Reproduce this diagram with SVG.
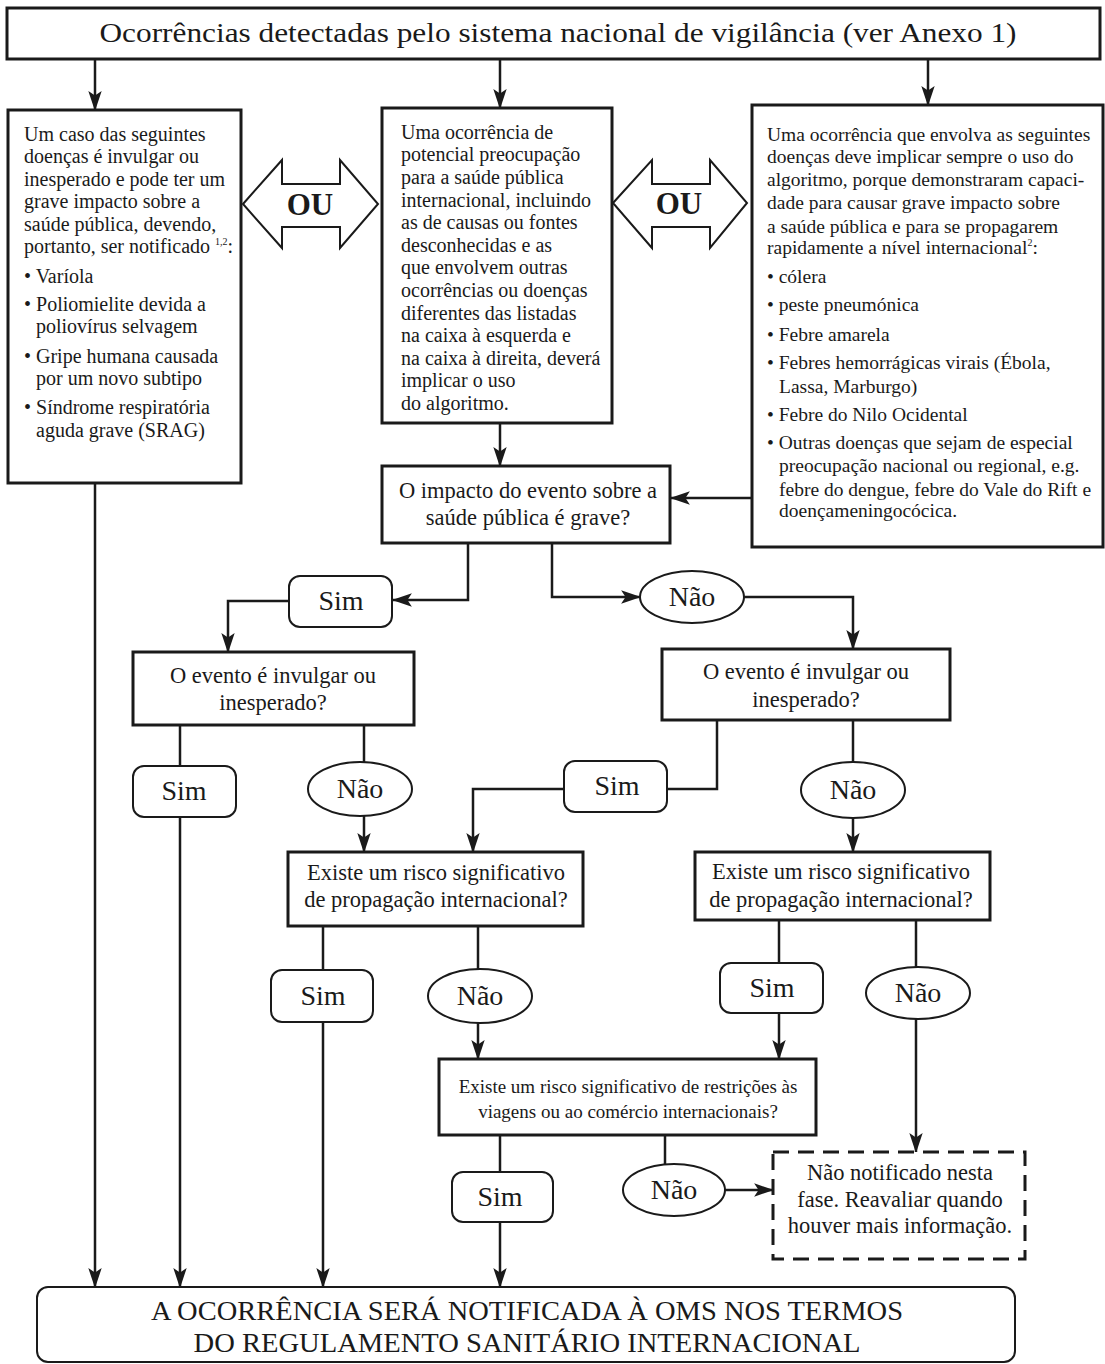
<svg xmlns="http://www.w3.org/2000/svg" width="1105" height="1364" viewBox="0 0 1105 1364">
<defs>
<style>
text{font-family:"Liberation Serif","Times New Roman",serif;fill:#1a1a1a}
.box{fill:#fff;stroke:#1a1a1a;stroke-width:3}
.lbl{fill:#fff;stroke:#1a1a1a;stroke-width:2}
.dash{fill:#fff;stroke:#1a1a1a;stroke-width:3;stroke-dasharray:16 9}
.ou{fill:#fff;stroke:#1a1a1a;stroke-width:2}
.body{font-size:20px}
.rb{font-size:19.5px}
.q{font-size:22.5px;text-anchor:middle}
.yn{font-size:28px;text-anchor:middle}
.oul{font-size:31px;font-weight:bold;text-anchor:middle}
.c{fill:none;stroke:#1a1a1a;stroke-width:2.5}
.ca{fill:none;stroke:#1a1a1a;stroke-width:2.5;marker-end:url(#ah)}
</style>
<marker id="ah" markerUnits="userSpaceOnUse" markerWidth="20" markerHeight="14" viewBox="0 0 18 12" refX="17" refY="6" orient="auto">
<path d="M0,0 L18,6 L0,12 L4,6 Z" fill="#1a1a1a"/>
</marker>
</defs>

<g id="connectors">
<path class="ca" d="M95,59 V110"/>
<path class="ca" d="M500,59 V108"/>
<path class="ca" d="M928,59 V105"/>
<path class="ca" d="M95,483 V1287"/>
<path class="ca" d="M500,423 V466"/>
<path class="ca" d="M752,498 H671"/>
<path class="ca" d="M468,543 V600 H393"/>
<path class="ca" d="M289,601 H228 V652"/>
<path class="ca" d="M552,543 V597 H640"/>
<path class="ca" d="M744,597 H853 V649"/>
<path class="c" d="M180,725 V766"/>
<path class="ca" d="M180,817 V1287"/>
<path class="c" d="M364,725 V763"/>
<path class="ca" d="M364,816 V852"/>
<path class="c" d="M717,720 V789 H667"/>
<path class="ca" d="M564,789 H473 V852"/>
<path class="c" d="M853,720 V762"/>
<path class="ca" d="M853,818 V852"/>
<path class="c" d="M323,926 V970"/>
<path class="ca" d="M323,1022 V1287"/>
<path class="c" d="M478,926 V969"/>
<path class="ca" d="M478,1023 V1059"/>
<path class="c" d="M779,920 V963"/>
<path class="ca" d="M779,1013 V1059"/>
<path class="c" d="M916,920 V967"/>
<path class="ca" d="M916,1019 V1152"/>
<path class="c" d="M500,1135 V1172"/>
<path class="ca" d="M500,1222 V1287"/>
<path class="c" d="M665,1135 V1164"/>
<path class="ca" d="M725,1190 H773"/>
</g>

<g id="top">
<rect class="box" x="7" y="8" width="1093" height="51"/>
<text x="558" y="42" font-size="28" text-anchor="middle" textLength="917" lengthAdjust="spacingAndGlyphs">Ocorrências detectadas pelo sistema nacional de vigilância (ver Anexo 1)</text>
</g>

<g id="left-box">
<rect class="box" x="8" y="110" width="233" height="373"/>
<text class="body">
<tspan x="24" y="141">Um caso das seguintes</tspan>
<tspan x="24" y="163">doenças é invulgar ou</tspan>
<tspan x="24" y="186">inesperado e pode ter um</tspan>
<tspan x="24" y="208">grave impacto sobre a</tspan>
<tspan x="24" y="231">saúde pública, devendo,</tspan>
<tspan x="24" y="253">portanto, ser notificado </tspan><tspan font-size="10" dy="-8">1,2</tspan><tspan dy="8">:</tspan>
<tspan x="24" y="283">• Varíola</tspan>
<tspan x="24" y="311">• Poliomielite devida a</tspan>
<tspan x="36" y="333">poliovírus selvagem</tspan>
<tspan x="24" y="363">• Gripe humana causada</tspan>
<tspan x="36" y="385">por um novo subtipo</tspan>
<tspan x="24" y="414">• Síndrome respiratória</tspan>
<tspan x="36" y="437">aguda grave (SRAG)</tspan>
</text>
</g>

<g id="ou-1">
<polygon class="ou" points="243,204 282,160 282,184 340,184 340,160 378,204 340,248 340,227 282,227 282,248"/>
<text class="oul" x="310" y="215">OU</text>
</g>

<g id="middle-box">
<rect class="box" x="382" y="108" width="230" height="315"/>
<text class="body">
<tspan x="401" y="139">Uma ocorrência de</tspan>
<tspan x="401" y="161">potencial preocupação</tspan>
<tspan x="401" y="184">para a saúde pública</tspan>
<tspan x="401" y="207">internacional, incluindo</tspan>
<tspan x="401" y="229">as de causas ou fontes</tspan>
<tspan x="401" y="252">desconhecidas e as</tspan>
<tspan x="401" y="274">que envolvem outras</tspan>
<tspan x="401" y="297">ocorrências ou doenças</tspan>
<tspan x="401" y="320">diferentes das listadas</tspan>
<tspan x="401" y="342">na caixa à esquerda e</tspan>
<tspan x="401" y="365">na caixa à direita, deverá</tspan>
<tspan x="401" y="387">implicar o uso</tspan>
<tspan x="401" y="410">do algoritmo.</tspan>
</text>
</g>

<g id="ou-2">
<polygon class="ou" points="613,203 652,160 652,184 710,184 710,160 747,203 710,248 710,227 652,227 652,248"/>
<text class="oul" x="679" y="214">OU</text>
</g>

<g id="right-box">
<rect class="box" x="752" y="105" width="351" height="442"/>
<text class="rb">
<tspan x="767" y="141">Uma ocorrência que envolva as seguintes</tspan>
<tspan x="767" y="163">doenças deve implicar sempre o uso do</tspan>
<tspan x="767" y="186">algoritmo, porque demonstraram capaci-</tspan>
<tspan x="767" y="209">dade para causar grave impacto sobre</tspan>
<tspan x="767" y="233">a saúde pública e para se propagarem</tspan>
<tspan x="767" y="254">rapidamente a nível internacional</tspan><tspan font-size="10" dy="-8">2</tspan><tspan dy="8">:</tspan>
<tspan x="767" y="283">• cólera</tspan>
<tspan x="767" y="311">• peste pneumónica</tspan>
<tspan x="767" y="341">• Febre amarela</tspan>
<tspan x="767" y="369">• Febres hemorrágicas virais (Ébola,</tspan>
<tspan x="779" y="393">Lassa, Marburgo)</tspan>
<tspan x="767" y="421">• Febre do Nilo Ocidental</tspan>
<tspan x="767" y="449">• Outras doenças que sejam de especial</tspan>
<tspan x="779" y="472">preocupação nacional ou regional, e.g.</tspan>
<tspan x="779" y="496">febre do dengue, febre do Vale do Rift e</tspan>
<tspan x="779" y="517">doençameningocócica.</tspan>
</text>
</g>

<g id="q-impacto">
<rect class="box" x="382" y="466" width="288" height="77"/>
<text class="q"><tspan x="528" y="498">O impacto do evento sobre a</tspan><tspan x="528" y="525">saúde pública é grave?</tspan></text>
</g>

<g id="sim-1"><rect class="lbl" x="289" y="576" width="103" height="51" rx="11"/><text class="yn" x="341" y="610">Sim</text></g>
<g id="nao-1"><ellipse class="lbl" cx="692" cy="597" rx="52" ry="26"/><text class="yn" x="692" y="606">Não</text></g>

<g id="q-invulgar-left">
<rect class="box" x="133" y="652" width="281" height="73"/>
<text class="q"><tspan x="273" y="683">O evento é invulgar ou</tspan><tspan x="273" y="710">inesperado?</tspan></text>
</g>

<g id="q-invulgar-right">
<rect class="box" x="662" y="649" width="288" height="71"/>
<text class="q"><tspan x="806" y="679">O evento é invulgar ou</tspan><tspan x="806" y="707">inesperado?</tspan></text>
</g>

<g id="sim-2"><rect class="lbl" x="133" y="766" width="103" height="51" rx="11"/><text class="yn" x="184" y="800">Sim</text></g>
<g id="nao-2"><ellipse class="lbl" cx="360" cy="789" rx="52" ry="27"/><text class="yn" x="360" y="798">Não</text></g>
<g id="sim-3"><rect class="lbl" x="564" y="761" width="103" height="51" rx="11"/><text class="yn" x="617" y="795">Sim</text></g>
<g id="nao-3"><ellipse class="lbl" cx="853" cy="790" rx="52" ry="28"/><text class="yn" x="853" y="799">Não</text></g>

<g id="q-propagacao-left">
<rect class="box" x="288" y="852" width="295" height="74"/>
<text class="q"><tspan x="436" y="880">Existe um risco significativo</tspan><tspan x="436" y="907">de propagação internacional?</tspan></text>
</g>

<g id="q-propagacao-right">
<rect class="box" x="695" y="852" width="295" height="68"/>
<text class="q"><tspan x="841" y="879">Existe um risco significativo</tspan><tspan x="841" y="907">de propagação internacional?</tspan></text>
</g>

<g id="sim-4"><rect class="lbl" x="271" y="970" width="102" height="52" rx="11"/><text class="yn" x="323" y="1005">Sim</text></g>
<g id="nao-4"><ellipse class="lbl" cx="480" cy="996" rx="52" ry="27"/><text class="yn" x="480" y="1005">Não</text></g>
<g id="sim-5"><rect class="lbl" x="720" y="963" width="103" height="50" rx="11"/><text class="yn" x="772" y="997">Sim</text></g>
<g id="nao-5"><ellipse class="lbl" cx="918" cy="993" rx="52" ry="26"/><text class="yn" x="918" y="1002">Não</text></g>

<g id="q-restricoes">
<rect class="box" x="439" y="1059" width="377" height="76"/>
<text font-size="19" text-anchor="middle"><tspan x="628" y="1093">Existe um risco significativo de restrições às</tspan><tspan x="628" y="1118">viagens ou ao comércio internacionais?</tspan></text>
</g>

<g id="sim-6"><rect class="lbl" x="452" y="1172" width="101" height="50" rx="11"/><text class="yn" x="500" y="1206">Sim</text></g>
<g id="nao-6"><ellipse class="lbl" cx="674" cy="1190" rx="51" ry="26"/><text class="yn" x="674" y="1199">Não</text></g>

<g id="nao-notificado">
<rect class="dash" x="773" y="1152" width="252" height="107"/>
<text font-size="22.5" text-anchor="middle"><tspan x="900" y="1180">Não notificado nesta</tspan><tspan x="900" y="1207">fase. Reavaliar quando</tspan><tspan x="900" y="1233">houver mais informação.</tspan></text>
</g>

<g id="notificacao-oms">
<rect x="37" y="1287" width="978" height="75" rx="11" fill="#fff" stroke="#1a1a1a" stroke-width="2"/>
<text font-size="27" text-anchor="middle"><tspan x="527" y="1320" textLength="752" lengthAdjust="spacingAndGlyphs">A OCORRÊNCIA SERÁ NOTIFICADA À OMS NOS TERMOS</tspan><tspan x="527" y="1352" textLength="667" lengthAdjust="spacingAndGlyphs">DO REGULAMENTO SANITÁRIO INTERNACIONAL</tspan></text>
</g>
</svg>
